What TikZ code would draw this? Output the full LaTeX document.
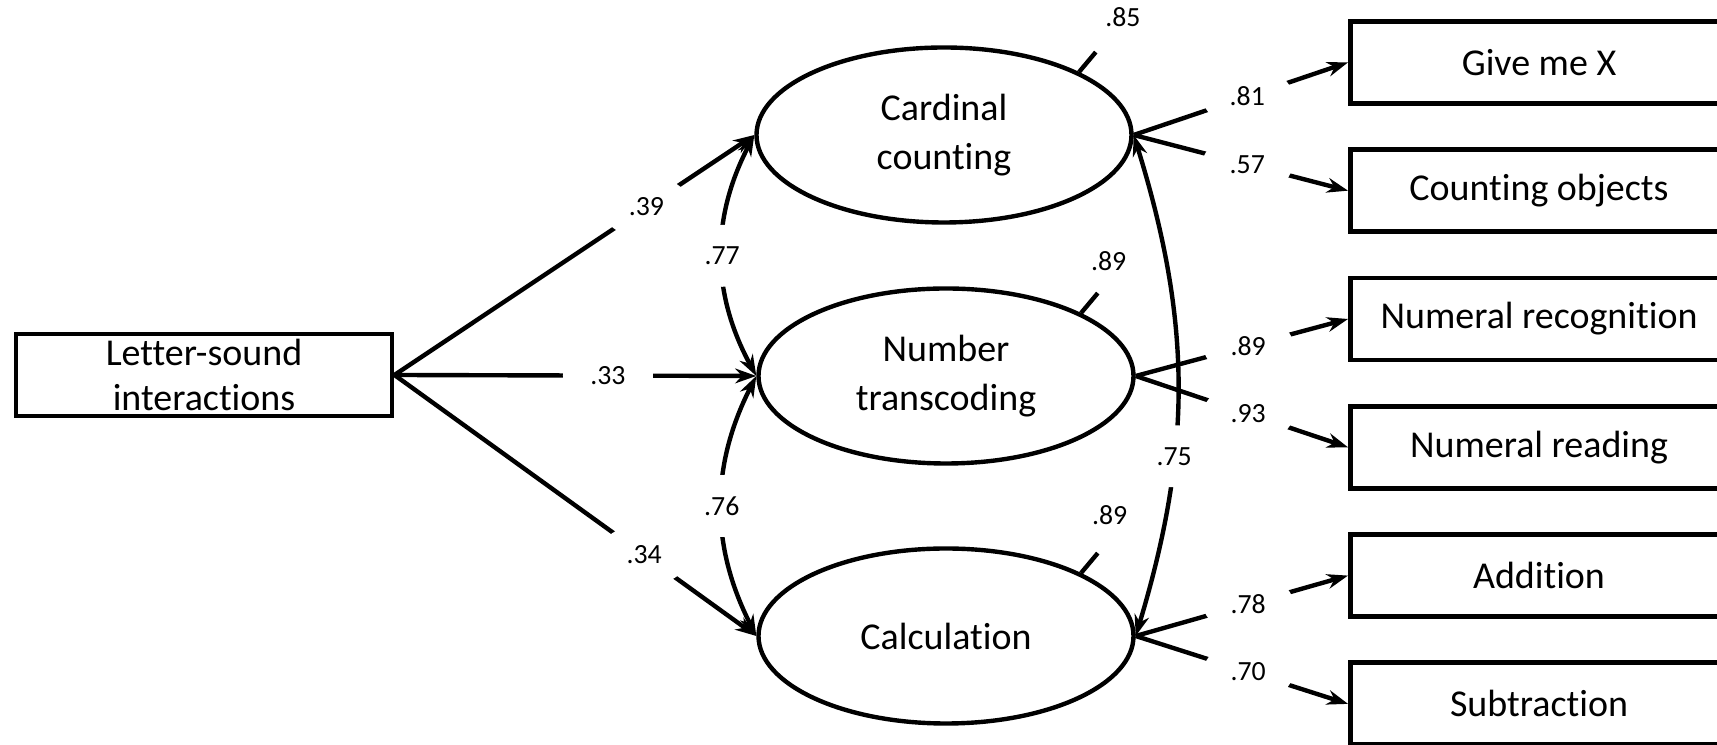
\documentclass[tikz,border=0pt]{standalone}
\usepackage{fontspec}
\setmainfont{Carlito}[Ligatures=NoCommon]
\usetikzlibrary{positioning,shapes.geometric,arrows.meta}

\begin{document}
\begin{tikzpicture}[node distance=1.283cm, line width=1.25pt, >={Stealth[length=6pt,width=4.2pt]},
    obs/.style = {draw, rectangle, line width=1.4pt, minimum width=3.76cm, minimum height=0.82cm, inner sep=0pt, align=center, font=\fontsize{10.8}{12.9}\selectfont},
    ind/.style = {obs, minimum width=3.77cm},
    latent/.style = {draw, ellipse, minimum width=3.75cm, minimum height=1.75cm, inner sep=0pt, align=center, font=\fontsize{10.8}{13.9}\selectfont},
    wgap/.style = {ellipse, fill=white, minimum width=0.9cm, minimum height=0.62cm, inner sep=0pt, font=\fontsize{7.9}{9}\selectfont},
    lbl/.style = {font=\fontsize{7.9}{9}\selectfont, inner sep=1pt, anchor=south}]
            \useasboundingbox (0,0) rectangle (17.17,7.45);
            \clip (0,0) rectangle (17.17,7.45);
            \node[obs] (ls) at (2.04,3.70) {Letter-sound\\interactions};
            \node[latent] (card) at (9.44,6.10) {Cardinal\\counting};
            \node[latent] (num) at (9.46,3.69) {Number\\transcoding};
            \node[latent] (calc) at (9.46,1.09) {Calculation};
            \node[ind] (gx) at (15.39,6.826) {Give me X};
            \node[ind] (co) [below of=gx] {Counting objects};
            \node[ind] (nrec) [below of=co] {Numeral recognition};
            \node[ind] (nread) [below of=nrec] {Numeral reading};
            \node[ind] (add) [below of=nread] {Addition};
            \node[ind] (sub) [below of=add] {Subtraction};
            \draw[->] (ls.east) to node[wgap, pos=.70] {.39} (card.west);
            \draw[->] (ls.east) to node[wgap, pos=.59] {.33} (num.west);
            \draw[->] (ls.east) to node[wgap, pos=.69] {.34} (calc.west);
            \draw[<->] (card.west) to[bend right=28] node[wgap] {.77} (num.west);
            \draw[<->] (num.west) to[bend right=27] node[wgap] {.76} (calc.west);
            \draw[<->] (card.east) to[bend left=17] node[wgap, pos=.65] {.75} (calc.east);
            \draw (card.25) -- ++(50:0.26) node[lbl, xshift=7.7pt, yshift=5.6pt] {.85};
            \draw (num.25) -- ++(50:0.26) node[lbl, xshift=3.1pt, yshift=4.7pt] {.89};
            \draw (calc.25) -- ++(50:0.26) node[lbl, xshift=3.4pt, yshift=6.5pt] {.89};
            \draw[->] (card.east) to node[wgap, pos=.53] {.81} (gx.west);
            \draw[->] (card.east) to node[wgap, pos=.53] {.57} (co.west);
            \draw[->] (num.east) to node[wgap, pos=.53] {.89} (nrec.west);
            \draw[->] (num.east) to node[wgap, pos=.53] {.93} (nread.west);
            \draw[->] (calc.east) to node[wgap, pos=.53] {.78} (add.west);
            \draw[->] (calc.east) to node[wgap, pos=.53] {.70} (sub.west);
        \end{tikzpicture}
\end{document}
